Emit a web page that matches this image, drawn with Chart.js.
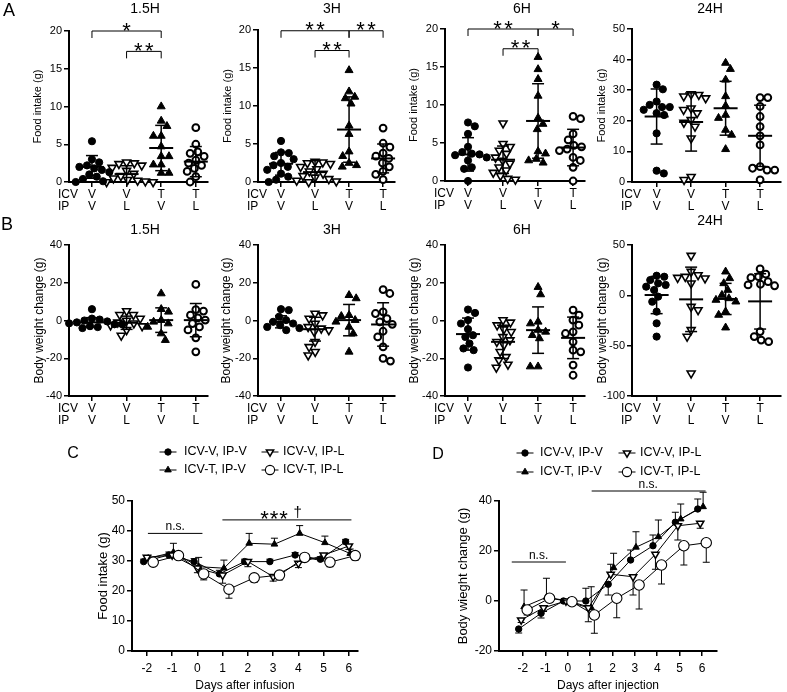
<!DOCTYPE html>
<html><head><meta charset="utf-8">
<script src="https://cdn.jsdelivr.net/npm/chart.js@4.4.1/dist/chart.umd.min.js"></script>
<style>
html,body{margin:0;padding:0;background:#fff;width:787px;height:692px;overflow:hidden;position:relative;font-family:"Liberation Sans",Arial,sans-serif;}
canvas{position:absolute;}
.lbl{position:absolute;color:#000;white-space:nowrap;line-height:1;transform:translate(-50%,-50%);}
</style></head><body>
<script>
// ---------------- DATA ----------------
const groupsICV = ['V','V','T','T'];
const groupsIP  = ['V','L','V','L'];

// A: Food intake (g)
const food1_5H = [
  [5.4, 3.0, 2.6, 2.2, 2.0, 1.8, 1.6, 1.3, 1.0, 0.7, 0.4, 0.1, 0.0],
  [2.6, 2.5, 2.4, 2.2, 1.9, 1.5, 1.1, 0.8, 0.5, 0.3, 0.2, 0.1, 0.0, 0.0],
  [10.0, 8.1, 7.4, 6.1, 6.1, 4.7, 3.4, 3.4, 2.3, 2.3, 1.2, 1.2],
  [7.2, 5.0, 4.0, 3.8, 3.4, 2.9, 2.5, 2.2, 1.8, 1.4, 0.7, 0.0]
];
const food1_5H_mean = [2.0, 1.05, 4.5, 2.7];
const food1_5H_sd   = [1.5, 1.1, 3.0, 2.0];
const food1_5H_sig  = [[0,2,20,'*'],[1,2,17.3,'**']];

const food3H = [
  [5.4, 3.9, 3.8, 3.4, 3.0, 2.5, 2.2, 2.0, 1.6, 1.1, 0.7, 0.3, 0.0],
  [2.7, 2.6, 2.5, 2.4, 2.0, 1.7, 1.4, 1.1, 0.8, 0.6, 0.4, 0.2, 0.1, 0.0],
  [14.7, 11.9, 11.2, 11.0, 10.3, 7.4, 6.3, 4.0, 3.4, 2.5, 2.2, 2.0],
  [7.1, 5.1, 4.6, 3.8, 3.4, 3.1, 2.5, 2.0, 1.4, 1.0, 0.3]
];
const food3H_mean = [2.4, 1.3, 6.9, 3.1];
const food3H_sd   = [1.5, 1.5, 4.3, 1.9];
const food3H_sig  = [[0,2,19.9,'**'],[2,3,19.9,'**'],[1,2,17.3,'**']];

const food6H = [
  [7.7, 7.2, 6.2, 4.5, 3.8, 3.6, 3.5, 3.4, 3.1, 2.7, 1.8, 1.6, 0.0],
  [7.6, 4.9, 4.5, 4.0, 3.6, 3.1, 2.7, 2.3, 1.8, 1.4, 1.1, 0.7, 0.3, 0.2],
  [16.3, 14.7, 13.4, 11.2, 8.3, 7.5, 6.8, 3.9, 3.6, 2.9, 2.7, 2.4],
  [8.5, 8.2, 6.2, 5.4, 4.7, 4.5, 4.2, 4.0, 3.1, 2.7, 1.8, 0.0]
];
const food6H_mean = [3.5, 2.8, 7.9, 4.4];
const food6H_sd   = [2.2, 1.8, 4.9, 2.4];
const food6H_sig  = [[0,2,20,'**'],[2,3,20,'*'],[1,2,17.4,'**']];

const food24H = [
  [31.8, 30.3, 26.3, 25.2, 24.5, 24.5, 23.6, 22.5, 21.9, 15.9, 3.7, 2.8],
  [28.7, 28.5, 28.0, 27.4, 24.1, 23.6, 22.5, 20.3, 19.4, 18.1, 14.3, 1.7, 0.7],
  [38.9, 36.9, 33.4, 28.0, 24.9, 21.9, 20.9, 17.0, 15.4, 10.7],
  [27.6, 27.6, 24.7, 21.4, 18.1, 15.1, 12.1, 5.0, 4.5, 3.9, 3.9, 0.7]
];
const food24H_mean = [21.4, 19.6, 24.1, 15.1];
const food24H_sd   = [9.0, 9.5, 8.8, 10.0];

// B: Body weight change (g)
const bw1_5H = [
  [6, 1, 0.5, 0, -0.5, -1, -1.5, -2, -2, -3, -3.5, -4],
  [5, 3, 3, 1, 0, -1, -1.5, -2.5, -3, -5, -8],
  [14.3, 6, 4.6, 0.2, -0.7, -1.6, -3.4, -6.9, -10.4],
  [19.1, 5.8, 5, 2.8, 1.4, 0.2, -1.6, -3.4, -5, -9.2, -16.6]
];
const bw1_5H_mean = [-1, -1.2, 0.2, 0.2];
const bw1_5H_sd   = [2.5, 3.5, 6.5, 8.8];

const bw3H = [
  [6, 5.5, 2, 0.2, -0.7, -1.6, -2.5, -3.4, -4, -5.1],
  [3.7, 2.8, 1, -1.6, -3.4, -4.2, -5.1, -6, -11.3, -14, -16.6, -18.4],
  [13.4, 11.7, 2.8, 2.3, 0.2, -0.7, -3.4, -6.9, -16.6],
  [16.4, 14.3, 4.6, 3.7, 1, -0.7, -2, -5.7, -8.7, -14, -20.1, -21.5]
];
const bw3H_mean = [-0.7, -4.6, 0.2, -2.1];
const bw3H_sd   = [3.2, 6.3, 8.3, 11.5];

const bw6H = [
  [5.8, 4, 0.2, -1.6, -4.6, -7.8, -8.7, -12.2, -14.8, -15.7, -24.9],
  [0.2, -1, -2.5, -4.6, -6, -8.7, -10.4, -11.3, -13, -16.6, -19.3, -21, -23.3, -24.9],
  [17.7, 13.8, -0.7, -1.6, -5, -6, -7.8, -9.5, -24.4, -24.4],
  [5.5, 2.8, 0.2, -2.5, -6, -6.9, -11.3, -15.7, -16.6, -23.6, -29]
];
const bw6H_mean = [-7.2, -11.3, -5.1, -9.2];
const bw6H_sd   = [8.5, 8.8, 12.3, 11];

const bw24H = [
  [19.5, 18.5, 15.2, 11.9, 10.3, 8.6, 5.3, -1.3, -6.3, -16.2, -27.8, -41],
  [39.4, 23.5, 20.2, 18.5, 17.5, 16.9, 11.9, -11.3, -14.6, -34.4, -41, -77.5],
  [23.5, 16.9, 11.9, 5.3, 0.3, -3, -4.6, -6.3, -16.2, -19.5, -32.1],
  [26.2, 21, 18.5, 17.5, 13.6, 11, 10.3, 9.5, -36, -41, -44.4, -46]
];
const bw24H_mean = [0.3, -4, -3.6, -6];
const bw24H_sd   = [18.5, 32, 15.5, 27.5];

// C / D: daily series
const days = [-2, -1, 0, 1, 2, 3, 4, 5, 6];
const seriesNames = ['ICV-V, IP-V', 'ICV-V, IP-L', 'ICV-T, IP-V', 'ICV-T, IP-L'];

const foodDay_VV = [29.8, 32.0, 29.8, 25.7, 29.8, 29.8, 32.0, 30.6, 36.4];
const foodDay_VL = [31.2, 32.0, 27.6, 25.3, 29.8, 24.8, 29.2, 32.0, 35.0];
const foodDay_TV = [30.9, 32.9, 28.1, 27.6, 35.9, 35.6, 39.2, 36.1, 32.5];
const foodDay_TL = [29.6, 31.8, 25.7, 20.6, 24.4, 25.3, 31.2, 29.6, 31.8];
const foodDay_VV_err = [0.8, 1.0, 1.0, 1.2, 0.8, 0.8, 0.8, 0.8, 0.8];
const foodDay_VL_err = [-1.0, -1.0, -1.5, -2.7, -1.7, -1.5, -1.4, -1.0, -1.2];
const foodDay_TV_err = [0.8, 3.0, 3.1, 2.7, 3.3, 2.0, 2.6, 2.2, 1.5];
const foodDay_TL_err = [-0.8, -1.0, -2.0, -3.0, -1.5, -1.6, -1.0, -1.5, -1.5];
const foodDay_sig = [[-1.96, 0.2, 39.2, 'n.s.', -0.88], [0.99, 6.1, 43.7, '*** \u2020', 3.31]];

const bwDay_VV = [-11.2, -4.9, 0, 0, 6.7, 16.4, 22.1, 31.5, 36.8];
const bwDay_VL = [-7.6, -2.7, 0, -2.7, 10.7, 9.7, 18.7, 30.1, 31.1];
const bwDay_TV = [-2.3, 1.5, 0, -2.7, 13.3, 21.5, 25.7, 32.8, 37.7];
const bwDay_TL = [-3.6, 1.1, -0.3, -5.6, 1.1, 6.4, 14.4, 22.1, 23.3];
const bwDay_VV_err = [-1.6, -1.9, 0.5, 5.1, -4.3, 4.0, 4.3, 4.0, 4.0];
const bwDay_VL_err = [-1.0, -1.5, 0.5, -5.6, 4.0, -7.3, -6.0, -5.7, -2.0];
const bwDay_TV_err = [6.7, 7.6, 0.5, 8.4, 5.8, 6.2, 6.7, 6.0, 5.8];
const bwDay_TL_err = [-2.0, -1.0, -0.5, -7.3, -7.8, -9.6, -7.6, -7.7, -7.8];
const bwDay_sig = [[-2.5, -0.08, 15.6, 'n.s.', -1.3], [1.07, 6.16, 44, 'n.s.', 3.6]];

// ---------------- RENDERING ----------------
const FF = "'Liberation Sans', Arial, Helvetica, sans-serif";
Chart.defaults.font.family = FF;
Chart.defaults.color = '#000';
Chart.defaults.animation = false;

function mkCanvas(r){
  const c = document.createElement('canvas');
  c.width = r.w; c.height = r.h;
  c.style.left = r.x + 'px'; c.style.top = r.y + 'px';
  c.style.width = r.w + 'px'; c.style.height = r.h + 'px';
  document.body.appendChild(c);
  return c;
}
function addLabel(text, x, y, size){
  const d = document.createElement('div');
  d.className = 'lbl'; d.textContent = text;
  d.style.left = x + 'px'; d.style.top = y + 'px'; d.style.fontSize = size + 'px';
  document.body.appendChild(d);
}

function swarm(values, pxY, pxX, D){
  const idx = values.map((v,i)=>i).sort((a,b)=>values[b]-values[a]);
  const placed = [];
  const off = new Array(values.length).fill(0);
  let flip = 1;
  for (const i of idx){
    const y = values[i]*pxY;
    const forb = [];
    for (const p of placed){
      const dy = Math.abs(p.y - y);
      if (dy < D){ const w = Math.sqrt(D*D - dy*dy); forb.push([p.x - w, p.x + w]); }
    }
    const cands = [0];
    forb.forEach(f=>{cands.push(f[0], f[1]);});
    cands.sort((a,b)=>(Math.abs(a)-Math.abs(b)) || (flip*(b-a)));
    let best = 0;
    for (const c of cands){
      if (!forb.some(f=> c > f[0]+1e-6 && c < f[1]-1e-6)){ best = c; break; }
    }
    if (best !== 0) flip = -flip;
    placed.push({x:best, y});
    off[i] = best/pxX;
  }
  return off;
}

function line(ctx,x1,y1,x2,y2){ ctx.beginPath(); ctx.moveTo(x1,y1); ctx.lineTo(x2,y2); ctx.stroke(); }

function drawSig(ctx, label, cx, cy, step){
  ctx.save(); ctx.fillStyle = '#000'; ctx.textAlign = 'center'; ctx.textBaseline = 'alphabetic';
  if (label.indexOf('*') < 0){
    ctx.font = '12px ' + FF; ctx.fillText(label, cx, cy + 3.6); ctx.restore(); return;
  }
  const chars = Array.from(label);
  const adv = chars.map(ch => ch === '*' ? step : (ch === ' ' ? 5 : 9));
  const total = adv.reduce((a,b)=>a+b, 0);
  let x = cx - total/2;
  chars.forEach((ch,i)=>{
    const c = x + adv[i]/2;
    if (ch === '*'){ ctx.font = '22px ' + FF; ctx.fillText('*', c, cy + 12.6); }
    else if (ch !== ' '){ ctx.font = '15px ' + FF; ctx.fillText(ch, c, cy + 3.9); }
    x += adv[i];
  });
  ctx.restore();
}

const groupStyle = [
  {pointStyle:'circle',   radius:3.6, rotation:0,   bg:'#000', bw:1},
  {pointStyle:'triangle', radius:4.6, rotation:180, bg:'#fff', bw:1.6},
  {pointStyle:'triangle', radius:4.6, rotation:0,   bg:'#000', bw:1},
  {pointStyle:'circle',   radius:3.4, rotation:0,   bg:'#fff', bw:2}
];

function axisCommon(){
  return {
    grid:{display:true, drawOnChartArea:false, drawTicks:true, tickLength:5, color:'#000', lineWidth:1.5},
    border:{display:true, color:'#000', width:2}
  };
}

function scatterPanel(o){
  const {rect, area, yTitleX, yTitle, yTitleSize, yMin, yMax, yStep, xMin, xMax, groups, means, sds, sig} = o;
  const pxY = (area.b - area.t)/(yMax - yMin);
  const pxX = (area.r - area.l)/(xMax - xMin);
  const datasets = groups.map((vals, g)=>{
    const off = swarm(vals, pxY, pxX, 7.8);
    const st = groupStyle[g];
    return {
      data: vals.map((v,k)=>({x: g + off[k], y: v})),
      pointStyle: st.pointStyle, pointRadius: st.radius, pointRotation: st.rotation,
      pointBackgroundColor: st.bg, pointBorderColor: '#000', pointBorderWidth: st.bw,
      showLine: false, clip: false
    };
  });
  const boxLeft = yTitleX - yTitleSize/2;
  const Wy = area.l - boxLeft;
  const Hx = 30;
  const meanSd = {
    id:'meanSd',
    afterDatasetsDraw(chart){
      const ctx = chart.ctx, xs = chart.scales.x, ys = chart.scales.y;
      ctx.save(); ctx.strokeStyle = '#000';
      means.forEach((m,g)=>{
        const px = xs.getPixelForValue(g);
        const pm = ys.getPixelForValue(m);
        const pu = ys.getPixelForValue(Math.min(m + sds[g], yMax));
        const pd = ys.getPixelForValue(Math.max(m - sds[g], yMin));
        ctx.lineWidth = 1.5;
        line(ctx, px, pu, px, pd);
        if (m + sds[g] <= yMax) line(ctx, px-6, pu, px+6, pu);
        if (m - sds[g] >= yMin) line(ctx, px-6, pd, px+6, pd);
        ctx.lineWidth = 2;
        line(ctx, px-12, pm, px+12, pm);
      });
      ctx.restore();
    },
    afterDraw(chart){
      const ctx = chart.ctx, xs = chart.scales.x, ys = chart.scales.y, ca = chart.chartArea;
      ctx.save();
      ctx.fillStyle = '#000'; ctx.font = '12px ' + FF; ctx.textAlign = 'left'; ctx.textBaseline = 'middle';
      ctx.fillText('ICV', ca.left - 11, ca.bottom + 13);
      ctx.fillText('IP', ca.left - 11, ca.bottom + 25);
      ctx.strokeStyle = '#000'; ctx.lineWidth = 1;
      (sig || []).forEach(b=>{
        const x1 = xs.getPixelForValue(b[0]), x2 = xs.getPixelForValue(b[1]), y = ys.getPixelForValue(b[2]);
        ctx.beginPath(); ctx.moveTo(x1, y+7); ctx.lineTo(x1, y); ctx.lineTo(x2, y); ctx.lineTo(x2, y+7); ctx.stroke();
        drawSig(ctx, b[3], (x1+x2)/2, y - 6, 11);
      });
      ctx.restore();
    }
  };
  const ac = axisCommon();
  new Chart(mkCanvas(rect), {
    type:'scatter',
    data:{datasets},
    options:{
      responsive:false, animation:false, events:[],
      layout:{padding:{left: boxLeft - rect.x, top: area.t - rect.y, right: rect.x + rect.w - area.r, bottom: rect.y + rect.h - area.b - Hx}},
      plugins:{legend:{display:false}, tooltip:{enabled:false}, title:{display:false}},
      scales:{
        x:{type:'linear', min:xMin, max:xMax,
          afterBuildTicks: s=>{ s.ticks = groupsICV.map((_,i)=>({value:i})); },
          afterFit: s=>{ s.height = Hx; },
          ticks:{autoSkip:false, maxRotation:0, minRotation:0, padding:2, color:'#000', font:{size:12, lineHeight:1},
            callback:(v,i)=>[groupsICV[i], groupsIP[i]]},
          grid:ac.grid, border:ac.border},
        y:{type:'linear', min:yMin, max:yMax,
          ticks:{stepSize:yStep, padding:2, color:'#000', font:{size:11}},
          afterFit: s=>{ s.width = Wy; },
          title:{display:true, text:yTitle, color:'#000', font:{size:yTitleSize, lineHeight:1}, padding:0},
          grid:ac.grid, border:ac.border}
      }
    },
    plugins:[meanSd]
  });
}

const lineStyles = [
  {pointStyle:'circle',   radius:3.2, rotation:0,   bg:'#000', bw:1,   off:{C:-0.13, D:-0.19}},
  {pointStyle:'triangle', radius:4.2, rotation:180, bg:'#fff', bw:1.5, off:{C:0,     D:-0.08}},
  {pointStyle:'triangle', radius:3.8, rotation:0,   bg:'#000', bw:1,   off:{C:0.05,  D:0.05}},
  {pointStyle:'circle',   radius:5.2, rotation:0,   bg:'#fff', bw:1.1, off:{C:0.25,  D:0.19}}
];

function linePanel(o){
  const {key, rect, area, yTitleX, yTitle, xTitle, xTitleY, yMin, yMax, yStep, xMin, xMax, vals, errs, sig, legend} = o;
  const drawOrder = [3, 1, 2, 0];
  const datasets = drawOrder.map(si=>{
    const st = lineStyles[si];
    return {
      label: seriesNames[si], _si: si, _err: errs[si],
      data: days.map((d,i)=>({x: d + st.off[key], y: vals[si][i]})),
      showLine:true, borderColor:'#000', borderWidth:1, tension:0,
      pointStyle: st.pointStyle, pointRadius: st.radius, pointRotation: st.rotation,
      pointBackgroundColor: st.bg, pointBorderColor:'#000', pointBorderWidth: st.bw, clip:false
    };
  });
  const yts = 13, xts = 12;
  const boxLeft = yTitleX - yts/2;
  const Wy = area.l - boxLeft;
  const Hx = xTitleY + xts/2 - area.b;
  const extras = {
    id:'extras',
    beforeDatasetsDraw(chart){
      const ctx = chart.ctx, xs = chart.scales.x, ys = chart.scales.y;
      ctx.save(); ctx.strokeStyle = '#000'; ctx.lineWidth = 1;
      chart.data.datasets.forEach(ds=>{
        ds.data.forEach((p,i)=>{
          const e = ds._err[i];
          const px = xs.getPixelForValue(p.x);
          const p0 = ys.getPixelForValue(p.y), p1 = ys.getPixelForValue(p.y + e);
          line(ctx, px, p0, px, p1);
          line(ctx, px-3.5, p1, px+3.5, p1);
        });
      });
      ctx.restore();
    },
    afterDraw(chart){
      const ctx = chart.ctx, xs = chart.scales.x, ys = chart.scales.y;
      ctx.save(); ctx.strokeStyle = '#000'; ctx.lineWidth = 1;
      sig.forEach(s=>{
        const x1 = xs.getPixelForValue(s[0]), x2 = xs.getPixelForValue(s[1]), y = ys.getPixelForValue(s[2]);
        line(ctx, x1, y, x2, y);
        drawSig(ctx, s[3], xs.getPixelForValue(s[4]), y - 7, 9.5);
      });
      // legend
      legend.forEach(L=>{
        const st = lineStyles[L.si];
        const mx = L.mx - rect.x, my = L.y - rect.y;
        ctx.strokeStyle = '#000'; ctx.lineWidth = 1;
        line(ctx, mx - 8.5, my, mx + 8.5, my);
        ctx.fillStyle = st.bg; ctx.strokeStyle = '#000'; ctx.lineWidth = st.bw;
        Chart.helpers.drawPoint(ctx, {pointStyle: st.pointStyle, rotation: st.rotation, radius: Math.min(st.radius, 4.6), borderWidth: st.bw}, mx, my);
        ctx.fillStyle = '#000'; ctx.font = '12.5px ' + FF; ctx.textAlign = 'left'; ctx.textBaseline = 'middle';
        ctx.fillText(seriesNames[L.si], L.tx - rect.x, my);
      });
      ctx.restore();
    }
  };
  const ac = axisCommon();
  new Chart(mkCanvas(rect), {
    type:'scatter',
    data:{datasets},
    options:{
      responsive:false, animation:false, events:[],
      layout:{padding:{left: boxLeft - rect.x, top: area.t - rect.y, right: rect.x + rect.w - area.r, bottom: rect.y + rect.h - area.b - Hx}},
      plugins:{legend:{display:false}, tooltip:{enabled:false}, title:{display:false}},
      scales:{
        x:{type:'linear', min:xMin, max:xMax,
          afterBuildTicks: s=>{ s.ticks = days.map(v=>({value:v})); },
          afterFit: s=>{ s.height = Hx; },
          ticks:{autoSkip:false, maxRotation:0, padding:5, color:'#000', font:{size:12}},
          title:{display:true, text:xTitle, color:'#000', font:{size:xts, lineHeight:1}, padding:0},
          grid:ac.grid, border:ac.border},
        y:{type:'linear', min:yMin, max:yMax,
          ticks:{stepSize:yStep, padding:2, color:'#000', font:{size:12}},
          afterFit: s=>{ s.width = Wy; },
          title:{display:true, text:yTitle, color:'#000', font:{size:yts, lineHeight:1}, padding:0},
          grid:ac.grid, border:ac.border}
      }
    },
    plugins:[extras]
  });
}

// Row A
const rowA = {y:0, h:218};
scatterPanel({rect:{x:0,y:0,w:214,h:218}, area:{l:69,t:31,r:208,b:182}, yTitleX:38, yTitle:'Food intake (g)', yTitleSize:11,
  yMin:0, yMax:20, yStep:5, xMin:-0.663, xMax:3.346, groups:food1_5H, means:food1_5H_mean, sds:food1_5H_sd, sig:food1_5H_sig});
scatterPanel({rect:{x:212,y:0,w:190,h:218}, area:{l:258,t:30,r:395,b:182}, yTitleX:228, yTitle:'Food intake (g)', yTitleSize:11,
  yMin:0, yMax:20, yStep:5, xMin:-0.676, xMax:3.35, groups:food3H, means:food3H_mean, sds:food3H_sd, sig:food3H_sig});
scatterPanel({rect:{x:400,y:0,w:192,h:218}, area:{l:445,t:29,r:585,b:181}, yTitleX:414, yTitle:'Food intake (g)', yTitleSize:11,
  yMin:0, yMax:20, yStep:5, xMin:-0.657, xMax:3.34, groups:food6H, means:food6H_mean, sds:food6H_sd, sig:food6H_sig});
scatterPanel({rect:{x:590,y:0,w:197,h:218}, area:{l:632,t:29,r:783,b:182}, yTitleX:602, yTitle:'Food intake (g)', yTitleSize:11,
  yMin:0, yMax:50, yStep:10, xMin:-0.714, xMax:3.6, groups:food24H, means:food24H_mean, sds:food24H_sd, sig:[]});

// Row B
scatterPanel({rect:{x:0,y:212,w:214,h:220}, area:{l:69,t:245,r:208,b:396}, yTitleX:40, yTitle:'Body weight change (g)', yTitleSize:12,
  yMin:-40, yMax:40, yStep:20, xMin:-0.663, xMax:3.346, groups:bw1_5H, means:bw1_5H_mean, sds:bw1_5H_sd, sig:[]});
scatterPanel({rect:{x:212,y:212,w:190,h:220}, area:{l:258,t:245,r:395,b:396}, yTitleX:227, yTitle:'Body weight change (g)', yTitleSize:12,
  yMin:-40, yMax:40, yStep:20, xMin:-0.676, xMax:3.35, groups:bw3H, means:bw3H_mean, sds:bw3H_sd, sig:[]});
scatterPanel({rect:{x:400,y:212,w:192,h:220}, area:{l:445,t:245,r:585,b:396}, yTitleX:415, yTitle:'Body weight change (g)', yTitleSize:12,
  yMin:-40, yMax:40, yStep:20, xMin:-0.657, xMax:3.34, groups:bw6H, means:bw6H_mean, sds:bw6H_sd, sig:[]});
scatterPanel({rect:{x:590,y:212,w:197,h:220}, area:{l:632,t:245,r:783,b:396}, yTitleX:603, yTitle:'Body weight change (g)', yTitleSize:12,
  yMin:-100, yMax:50, yStep:50, xMin:-0.714, xMax:3.6, groups:bw24H, means:bw24H_mean, sds:bw24H_sd, sig:[]});

// Row C / D
linePanel({key:'C', rect:{x:60,y:430,w:330,h:262}, area:{l:132,t:501,r:358,b:651}, yTitleX:103, yTitle:'Food intake (g)',
  xTitle:'Days after infusion', xTitleY:686, yMin:0, yMax:50, yStep:10, xMin:-2.59, xMax:6.36,
  vals:[foodDay_VV, foodDay_VL, foodDay_TV, foodDay_TL], errs:[foodDay_VV_err, foodDay_VL_err, foodDay_TV_err, foodDay_TL_err],
  sig:foodDay_sig,
  legend:[{si:0, mx:168, tx:184, y:452},{si:1, mx:270, tx:283, y:452},{si:2, mx:168, tx:184, y:470},{si:3, mx:270, tx:283, y:470}]});
linePanel({key:'D', rect:{x:400,y:430,w:387,h:262}, area:{l:499,t:501,r:717,b:651}, yTitleX:463, yTitle:'Body wieght change (g)',
  xTitle:'Days after injection', xTitleY:686, yMin:-20, yMax:40, yStep:20, xMin:-3.07, xMax:6.67,
  vals:[bwDay_VV, bwDay_VL, bwDay_TV, bwDay_TL], errs:[bwDay_VV_err, bwDay_VL_err, bwDay_TV_err, bwDay_TL_err],
  sig:bwDay_sig,
  legend:[{si:0, mx:525, tx:540, y:453},{si:1, mx:627, tx:640, y:453},{si:2, mx:525, tx:540, y:472},{si:3, mx:627, tx:640, y:472}]});

// Titles and panel letters
addLabel('A', 9, 10, 18);
addLabel('B', 7, 224, 18);
addLabel('C', 73, 453, 16);
addLabel('D', 438, 454, 16);
const timeLabels = ['1.5H', '3H', '6H', '24H'];
const titleXs = [145, 332, 522, 710];
timeLabels.forEach((t,i)=>{ addLabel(t, titleXs[i], 8, 14); addLabel(t, titleXs[i], i === 3 ? 220 : 229, 14); });
</script>
</body></html>
